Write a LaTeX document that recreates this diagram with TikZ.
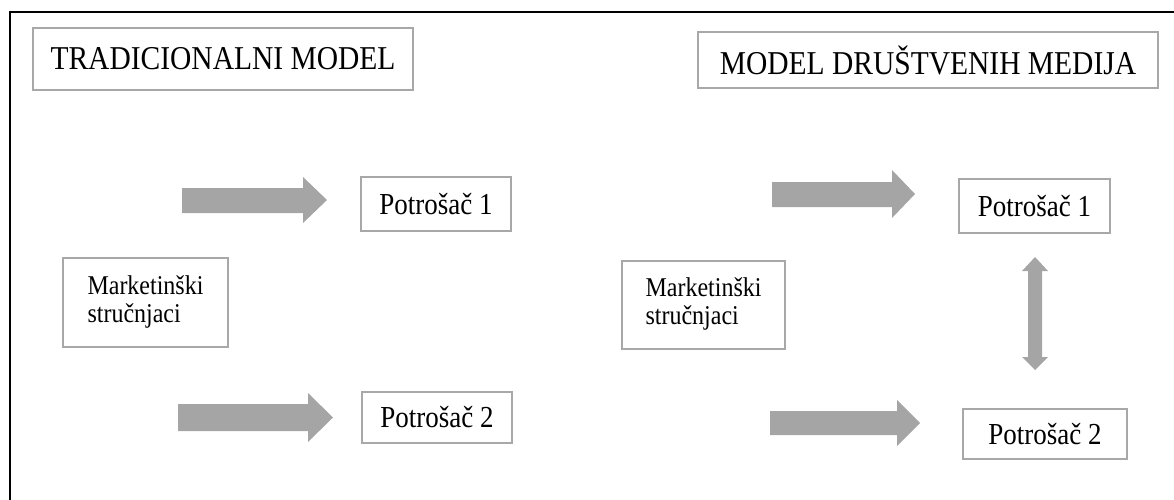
\documentclass[tikz,border=0pt]{standalone}
\usepackage{fontspec}
\setmainfont{Liberation Serif}
\definecolor{boxgray}{HTML}{A8A8A8}
\definecolor{arrowgray}{HTML}{A5A5A5}
\newcommand{\vstretch}[1]{\scalebox{1}[1.13]{#1}}
\newcommand{\twolines}[2]{\vstretch{\fontsize{24}{24.8}\selectfont\begin{tabular}{@{}l@{}}#1\\#2\end{tabular}}}
\begin{document}
\begin{tikzpicture}[x=1pt,y=-1pt,
  box/.style={draw=boxgray,line width=2pt,fill=white,inner sep=0pt,anchor=center},
  titletext/.style={font=\fontsize{29.5}{34}\selectfont},
  consumer/.style={font=\fontsize{27}{32}\selectfont},
  blockarrow/.style={fill=arrowgray,draw=none}]
\useasboundingbox (0,0) rectangle (1174,499);
% outer frame (top and left edges visible)
\draw[line width=2.5pt,line cap=rect] (10,499) -- (10,12) -- (1174,12);

% left: traditional model
\node[box,minimum width=380pt,minimum height=62pt,titletext] (t1) at (223,59) {\vstretch{TRADICIONALNI MODEL}};
\node[box,minimum width=165pt,minimum height=89pt] (m1) at (145.5,302.5) {\twolines{Marketinški}{stručnjaci}};
\node[box,minimum width=150pt,minimum height=54pt,consumer] (p11) at (436,204) {\vstretch{Potrošač 1}};
\node[box,minimum width=150pt,minimum height=51pt,consumer] (p12) at (437,417.5) {\vstretch{Potrošač 2}};
\fill[blockarrow] (182,188) -- (303,188) -- (303,177) -- (327,200) -- (303,223) -- (303,213) -- (182,213) -- cycle;
\fill[blockarrow] (178,404) -- (308,404) -- (308,393) -- (333,417.5) -- (308,442) -- (308,431) -- (178,431) -- cycle;

% right: social media model
\node[box,minimum width=460pt,minimum height=56pt,titletext] (t2) at (928,60) {\vstretch{MODEL DRUŠTVENIH MEDIJA}};
\node[box,minimum width=163pt,minimum height=88pt] (m2) at (703.5,305) {\twolines{Marketinški}{stručnjaci}};
\node[box,minimum width=151pt,minimum height=54pt,consumer] (p21) at (1034.5,206) {\vstretch{Potrošač 1}};
\node[box,minimum width=164pt,minimum height=50pt,consumer] (p22) at (1045,434) {\vstretch{Potrošač 2}};
\fill[blockarrow] (772,182) -- (892,182) -- (892,170) -- (915,194) -- (892,218) -- (892,207) -- (772,207) -- cycle;
\fill[blockarrow] (770,411) -- (897,411) -- (897,400) -- (920,423) -- (897,446) -- (897,435) -- (770,435) -- cycle;
\fill[blockarrow] (1035,257) -- (1048,271) -- (1042,271) -- (1042,357) -- (1048,357) -- (1035,370) -- (1022,357) -- (1028,357) -- (1028,271) -- (1022,271) -- cycle;
\end{tikzpicture}
\end{document}
